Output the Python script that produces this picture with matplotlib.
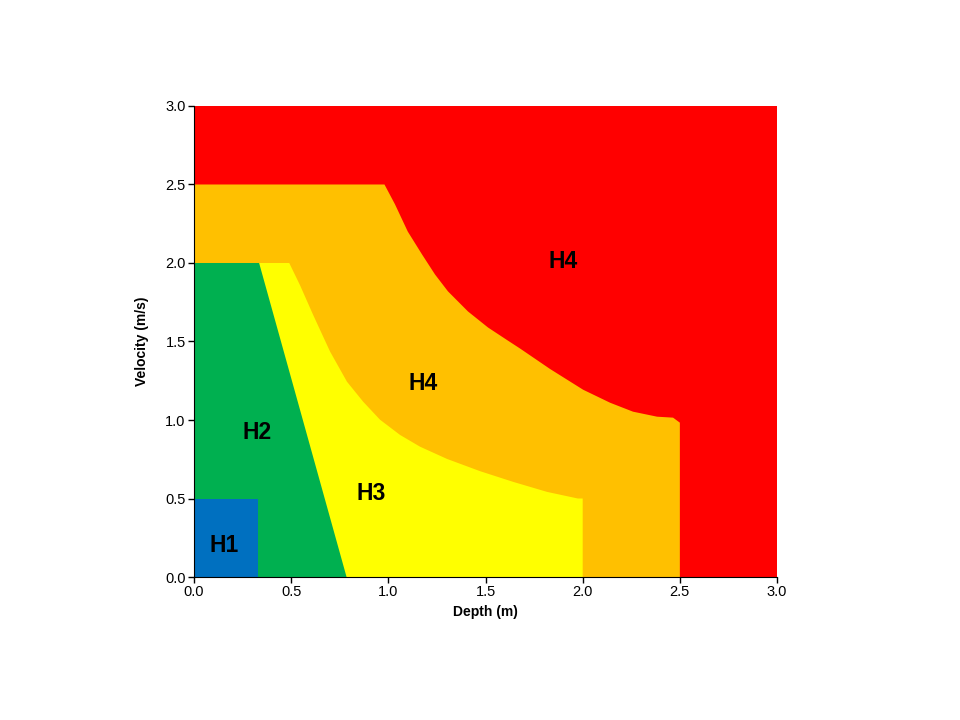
import matplotlib
matplotlib.use("Agg")
import matplotlib.pyplot as plt
from matplotlib.patches import Polygon, Rectangle

plt.rcParams['font.family'] = ['Liberation Sans', 'DejaVu Sans']

# hazard zone boundaries (depth m, velocity m/s)
h4_upper_d = [0.0, 0.98, 1.034, 1.10, 1.173, 1.24, 1.307, 1.41, 1.513, 1.616, 1.678,
              1.832, 2.002, 2.141, 2.259, 2.383, 2.465, 2.50, 2.50]
h4_upper_v = [2.5, 2.50, 2.374, 2.20, 2.055, 1.927, 1.819, 1.691, 1.589, 1.505, 1.455,
              1.325, 1.193, 1.11, 1.053, 1.021, 1.015, 0.983, 0.0]

h3_d = [0.0, 0.49, 0.546, 0.612, 0.70, 0.787, 0.87, 0.957, 1.06, 1.163, 1.302,
        1.472, 1.642, 1.817, 1.975, 2.00, 2.00]
h3_v = [2.0, 2.00, 1.857, 1.672, 1.436, 1.244, 1.117, 1.002, 0.905, 0.83, 0.752,
        0.674, 0.606, 0.542, 0.50, 0.50, 0.0]

h2_d = [0.0, 0.335, 0.785]
h2_v = [2.0, 2.0, 0.0]

h1_depth = 0.33
h1_vel = 0.5

labels = ['H1', 'H2', 'H3', 'H4', 'H4']
label_d = [0.155, 0.325, 0.91, 1.18, 1.90]
label_v = [0.20, 0.92, 0.53, 1.23, 2.01]

xticks = [0.0, 0.5, 1.0, 1.5, 2.0, 2.5, 3.0]
yticks = [0.0, 0.5, 1.0, 1.5, 2.0, 2.5, 3.0]

fig = plt.figure(figsize=(9.6, 7.2), dpi=100)
ax = fig.add_axes([0.2021, 0.1986, 0.6073, 0.6542])

ax.add_patch(Rectangle((0, 0), 3.0, 3.0, color='#FF0000', lw=0))

def poly(ds, vs, col):
    pts = [(0.0, 0.0)] + list(zip(ds, vs))
    ax.add_patch(Polygon(pts, closed=True, color=col, lw=0))

poly(h4_upper_d, h4_upper_v, '#FFC000')
poly(h3_d, h3_v, '#FFFF00')
poly(h2_d, h2_v, '#00B050')
ax.add_patch(Rectangle((0, 0), h1_depth, h1_vel, color='#0070C0', lw=0))

for t, d, v in zip(labels, label_d, label_v):
    ax.text(d, v, t, fontsize=16.5, fontweight='bold', ha='center', va='center')

ax.set_xlim(0, 3.0)
ax.set_ylim(0, 3.0)
ax.set_xticks(xticks)
ax.set_yticks(yticks)
ax.set_xticklabels([f'{t:.1f}' for t in xticks])
ax.set_yticklabels([f'{t:.1f}' for t in yticks])
ax.tick_params(direction='out', length=4, width=1, labelsize=10.5, pad=2)
ax.spines['top'].set_visible(False)
ax.spines['right'].set_visible(False)
ax.set_xlabel('Depth (m)', fontsize=10, fontweight='bold', labelpad=4)
ax.set_ylabel('Velocity (m/s)', fontsize=10, fontweight='bold', labelpad=12)

fig.savefig('out.png', dpi=100)
